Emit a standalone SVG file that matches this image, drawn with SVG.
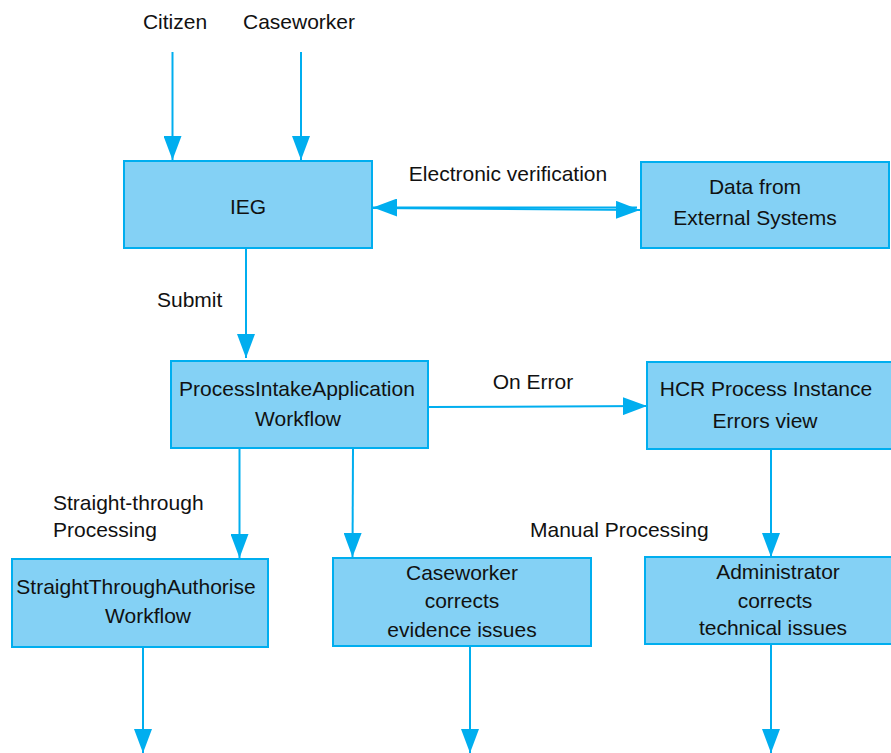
<svg xmlns="http://www.w3.org/2000/svg" width="891" height="753" viewBox="0 0 891 753">
  <defs>
    <style>
      .box { fill: #84D1F5; stroke: #00AEEF; stroke-width: 2; }
      .lbl { font-family: "Liberation Sans", Arial, sans-serif; font-size: 21px; fill: #111; }
      .mid { text-anchor: middle; }
      .edge { stroke: #00AEEF; stroke-width: 2; fill: none; marker-end: url(#arrow); }
    </style>
    <marker id="arrow" markerUnits="userSpaceOnUse" markerWidth="24" markerHeight="18" refX="24" refY="9" orient="auto">
      <path d="M0,0 L24,9 L0,18 Z" fill="#00AEEF"/>
    </marker>
  </defs>
  <rect width="891" height="753" fill="#FFFFFF"/>

  <!-- free labels -->
  <text class="lbl mid" x="175" y="29">Citizen</text>
  <text class="lbl mid" x="299" y="29">Caseworker</text>
  <text class="lbl mid" x="508" y="181">Electronic verification</text>
  <text class="lbl" x="157" y="307">Submit</text>
  <text class="lbl mid" x="533" y="389">On Error</text>
  <text class="lbl" x="53" y="510">Straight-through</text>
  <text class="lbl" x="53" y="537">Processing</text>
  <text class="lbl" x="530" y="537">Manual Processing</text>

  <!-- connectors -->
  <g id="connectors">
    <path class="edge" d="M172.5,52 L172.5,160"/>
    <path class="edge" d="M301,52 L301,160"/>
    <path class="edge" d="M637,207.5 L373,207.5"/>
    <path class="edge" d="M373,208 L640,210"/>
    <path class="edge" d="M246,249 L246,358"/>
    <path class="edge" d="M429,407 L647,406"/>
    <path class="edge" d="M239.5,449 L239.5,558"/>
    <path class="edge" d="M353,449 L352.5,557"/>
    <path class="edge" d="M771,450 L771,557"/>
    <path class="edge" d="M143,648 L143,753"/>
    <path class="edge" d="M470,647 L470,753"/>
    <path class="edge" d="M771,645 L771,753"/>
  </g>

  <!-- nodes -->
  <g id="ieg">
    <rect class="box" x="124" y="161" width="248" height="87"/>
    <text class="lbl mid" x="248" y="214">IEG</text>
  </g>
  <g id="external-data">
    <rect class="box" x="641" y="162" width="248" height="86"/>
    <text class="lbl mid" x="755" y="194">Data from</text>
    <text class="lbl mid" x="755" y="225">External Systems</text>
  </g>
  <g id="process-intake">
    <rect class="box" x="171" y="361" width="257" height="87"/>
    <text class="lbl mid" x="297" y="396">ProcessIntakeApplication</text>
    <text class="lbl mid" x="298" y="426">Workflow</text>
  </g>
  <g id="hcr-errors">
    <rect class="box" x="647" y="362" width="250" height="87"/>
    <text class="lbl mid" x="766" y="396">HCR Process Instance</text>
    <text class="lbl mid" x="765" y="428">Errors view</text>
  </g>
  <g id="straight-through">
    <rect class="box" x="12" y="559" width="256" height="88"/>
    <text class="lbl mid" x="136" y="594">StraightThroughAuthorise</text>
    <text class="lbl mid" x="148" y="623">Workflow</text>
  </g>
  <g id="caseworker-corrects">
    <rect class="box" x="333" y="558" width="258" height="88"/>
    <text class="lbl mid" x="462" y="580">Caseworker</text>
    <text class="lbl mid" x="462" y="608">corrects</text>
    <text class="lbl mid" x="462" y="637">evidence issues</text>
  </g>
  <g id="administrator-corrects">
    <rect class="box" x="645" y="557" width="252" height="87"/>
    <text class="lbl mid" x="778" y="579">Administrator</text>
    <text class="lbl mid" x="775" y="608">corrects</text>
    <text class="lbl mid" x="773" y="635">technical issues</text>
  </g>
</svg>
